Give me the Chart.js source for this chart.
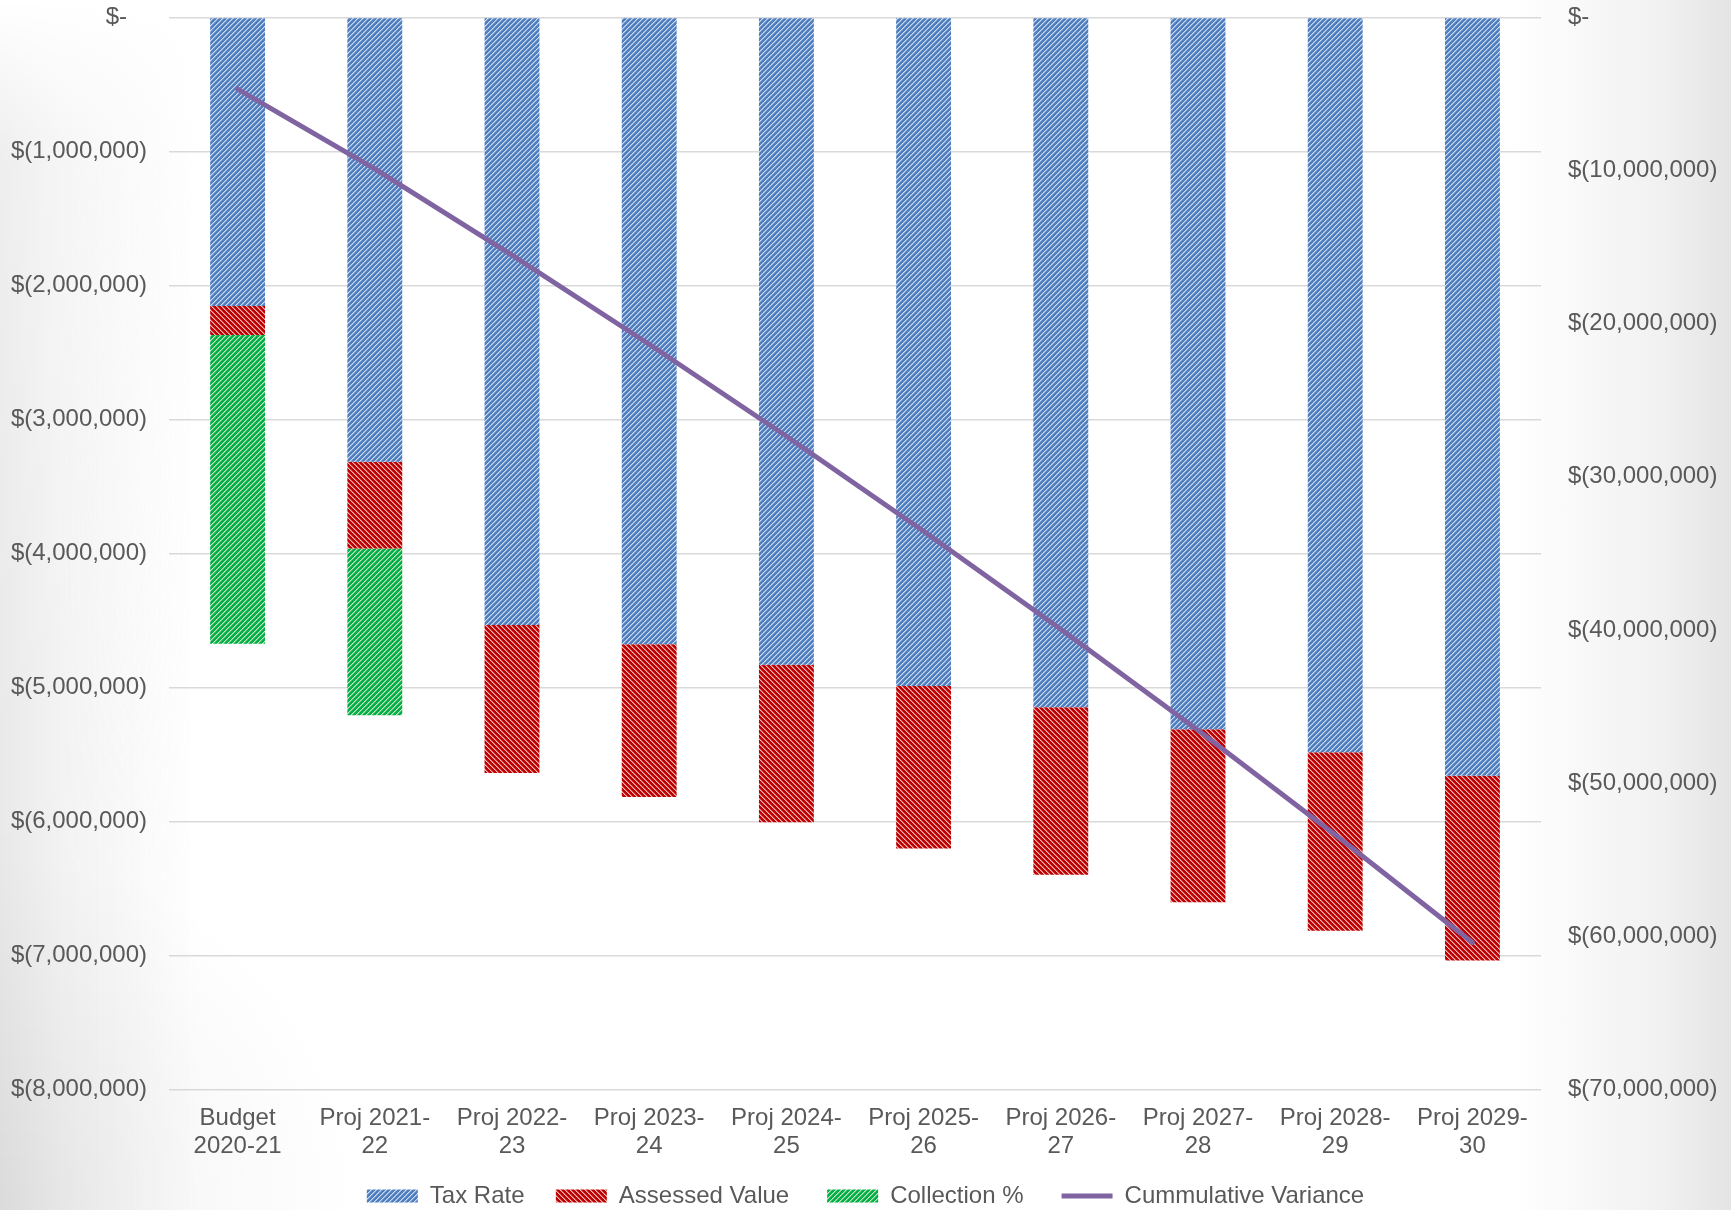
<!DOCTYPE html>
<html>
<head>
<meta charset="utf-8">
<title>Property Tax Variance</title>
<script src="https://cdn.jsdelivr.net/npm/chart.js@4.4.1/dist/chart.umd.min.js"></script>
<style>
  html, body { margin: 0; padding: 0; }
  body { width: 1731px; height: 1210px; overflow: hidden; background: #ffffff; }
  #wrap { position: relative; width: 1731px; height: 1210px; overflow: hidden; }
  /* soft grey shading along the page edges */
  .shade { position: absolute; top: 0; height: 1210px; pointer-events: none; }
  #shadeLeft {
    left: 0; width: 260px;
    background: linear-gradient(to right, #e8e8e8 0, #f2f2f2 60px, rgba(255,255,255,0) 200px);
    -webkit-mask-image: linear-gradient(to bottom, transparent 0, rgba(0,0,0,0.75) 160px, #000 900px);
    mask-image: linear-gradient(to bottom, transparent 0, rgba(0,0,0,0.75) 160px, #000 900px);
  }
  #shadeCorner {
    left: 0; width: 420px;
    background: radial-gradient(circle at 0% 100%, rgba(0,0,0,0.06) 0, rgba(0,0,0,0.03) 160px, rgba(0,0,0,0) 360px);
  }
  #shadeRight {
    right: 0; width: 280px;
    background: linear-gradient(to left, #e4e4e4 0, #f1f1f1 70px, rgba(255,255,255,0) 220px);
  }
  canvas { position: absolute; left: 0; top: 0; display: block; }
</style>
</head>
<body>
<div id="wrap">
  <div class="shade" id="shadeLeft"></div>
  <div class="shade" id="shadeCorner"></div>
  <div class="shade" id="shadeRight"></div>
  <canvas id="chart" width="1731" height="1218"></canvas>
</div>
<script>
// Fiscal periods shown on the category axis (two-line labels)
const categories = [
  ['Budget', '2020-21'],
  ['Proj 2021-', '22'],
  ['Proj 2022-', '23'],
  ['Proj 2023-', '24'],
  ['Proj 2024-', '25'],
  ['Proj 2025-', '26'],
  ['Proj 2026-', '27'],
  ['Proj 2027-', '28'],
  ['Proj 2028-', '29'],
  ['Proj 2029-', '30']
];

// Revenue variance by driver (dollars, stacked)
const taxRate       = [-2153000, -3315000, -4534000, -4678000, -4832000, -4989000, -5148000, -5312000, -5484000, -5660000];
const assessedValue = [-216000, -649000, -1106000, -1141000, -1174000, -1214000, -1251000, -1291000, -1333000, -1379000];
const collectionPct = [-2306000, -1244000, 0, 0, 0, 0, 0, 0, 0, 0];

// Running total of the variance (right axis)
const cumulativeVariance = [-4675000, -9883000, -15523000, -21342000, -27348000, -33551000, -39950000, -46553000, -53370000, -60409000];

// Axis ranges
const leftAxis  = { min: -8000000,  max: 0, step: 1000000 };
const rightAxis = { min: -70000000, max: 0, step: 10000000 };

const FONT = "'Liberation Sans', Arial, sans-serif";
const TEXT = '#595959';

const canvas = document.getElementById('chart');
const ctx = canvas.getContext('2d');

// Diagonal hatch fill: dir = 1 for "/" stripes, -1 for "\" stripes
function hatch(base, light, mid, dir) {
  const s = 5;
  const t = document.createElement('canvas');
  t.width = s; t.height = s;
  const g = t.getContext('2d');
  g.fillStyle = base;
  g.fillRect(0, 0, s, s);
  for (let y = 0; y < s; y++) {
    for (let x = 0; x < s; x++) {
      const k = dir > 0 ? (x + y) % s : ((x - y) % s + s) % s;
      if (k === 0) { g.fillStyle = light; g.fillRect(x, y, 1, 1); }
      else if (k === 1) { g.fillStyle = mid; g.fillRect(x, y, 1, 1); }
    }
  }
  return ctx.createPattern(t, 'repeat');
}

const bluePattern  = hatch('#4f7fbf', '#cddcf2', '#8eaddb', 1);
const redPattern   = hatch('#c00000', '#f0b8b8', '#da5e5e', -1);
const greenPattern = hatch('#00b050', '#cdeab0', '#66c97a', 1);

function money(v) {
  if (v === 0) return '$-   ';
  const s = Math.abs(v).toLocaleString('en-US');
  return v < 0 ? '$(' + s + ')' : '$' + s;
}
function moneyRight(v) {
  if (v === 0) return '$-';
  return money(v);
}

// Keep the plot area pinned: vertical axes add no extra top/bottom padding
function pinVertical(width) {
  return (s) => { s.width = width; s.paddingTop = 0; s.paddingBottom = 0; };
}

// Extra trailing room after each legend entry (in spaces)
const legendGap = [2, 3, 3, 0];

new Chart(ctx, {
  type: 'bar',
  data: {
    labels: categories,
    datasets: [
      { label: 'Tax Rate', data: taxRate, backgroundColor: bluePattern, borderWidth: 0,
        yAxisID: 'y', order: 1, pointStyle: 'rect' },
      { label: 'Assessed Value', data: assessedValue, backgroundColor: redPattern, borderWidth: 0,
        yAxisID: 'y', order: 1, pointStyle: 'rect' },
      { label: 'Collection %', data: collectionPct, backgroundColor: greenPattern, borderWidth: 0,
        yAxisID: 'y', order: 1, pointStyle: 'rect' },
      { type: 'line', label: 'Cummulative Variance', data: cumulativeVariance,
        borderColor: '#8064a2', backgroundColor: '#8064a2', borderWidth: 5,
        borderCapStyle: 'round', borderJoinStyle: 'round',
        pointRadius: 0, pointHoverRadius: 0, pointStyle: 'line',
        tension: 0, fill: false, yAxisID: 'y2', order: 0 }
    ]
  },
  options: {
    responsive: false,
    animation: false,
    events: [],
    layout: { padding: { top: 17.5, left: 0, right: 0, bottom: 0 } },
    datasets: { bar: { categoryPercentage: 1, barPercentage: 0.4 } },
    plugins: {
      tooltip: { enabled: false },
      title: { display: false },
      legend: {
        position: 'bottom',
        labels: {
          usePointStyle: true,
          pointStyleWidth: 51,
          boxHeight: 13,
          padding: 18,
          color: TEXT,
          font: { family: FONT, size: 24 },
          sort: (a, b) => a.datasetIndex - b.datasetIndex,
          generateLabels: (chart) => {
            const items = Chart.defaults.plugins.legend.labels.generateLabels(chart);
            items.forEach((it) => { it.text = it.text + ' '.repeat(legendGap[it.datasetIndex] || 0); });
            return items;
          }
        }
      }
    },
    scales: {
      x: {
        stacked: true,
        grid: { display: false, drawTicks: false },
        border: { display: false },
        ticks: {
          color: TEXT, padding: 15, maxRotation: 0, autoSkip: false,
          font: { family: FONT, size: 24, lineHeight: 1.1667 }
        },
        afterFit: (s) => { s.height = 76.7; }
      },
      y: {
        stacked: true,
        position: 'left',
        min: leftAxis.min, max: leftAxis.max,
        grid: { color: '#d9d9d9', lineWidth: 1.5, drawTicks: false },
        border: { display: false },
        ticks: {
          stepSize: leftAxis.step, padding: 22, color: TEXT,
          font: { family: FONT, size: 24 },
          callback: (v) => money(v)
        },
        afterFit: pinVertical(169)
      },
      y2: {
        stacked: false,
        position: 'right',
        min: rightAxis.min, max: rightAxis.max,
        grid: { display: false, drawTicks: false },
        border: { display: false },
        ticks: {
          stepSize: rightAxis.step, padding: 27, color: TEXT,
          font: { family: FONT, size: 24 },
          callback: (v) => moneyRight(v)
        },
        afterFit: pinVertical(190)
      }
    }
  }
});
</script>
</body>
</html>
